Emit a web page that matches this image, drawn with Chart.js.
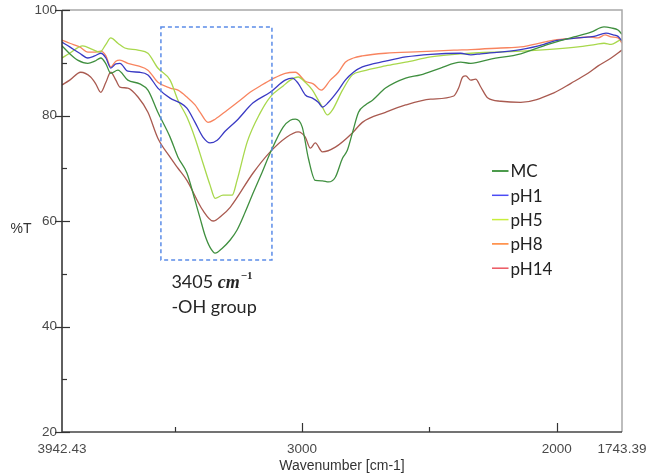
<!DOCTYPE html>
<html><head><meta charset="utf-8">
<script src="https://cdn.jsdelivr.net/npm/chart.js@4/dist/chart.umd.min.js"></script>
<style>html,body{margin:0;padding:0;background:#fff;}#wrap{width:648px;height:475px;}</style>
</head><body><div id="wrap"><canvas id="c" width="648" height="475"></canvas></div>
<script>
// ---- data: [wavenumber cm-1, %T] ----
const seriesNames = ['MC', 'pH1', 'pH5', 'pH8', 'pH14'];
const mcSpectrum = [[3942.43,93.2],[3912,91.7],[3881,90.5],[3841,89.9],[3814,90.3],[3790,90.9],[3770,89.8],[3751,88.0],[3723,88.6],[3684,86.7],[3637,86.0],[3605,84.8],[3566,80.6],[3518,75.9],[3487,72.1],[3452,69.1],[3420,63.9],[3400,60.5],[3381,57.3],[3361,55.0],[3341,53.9],[3314,54.8],[3282,56.4],[3255,58.3],[3223,61.7],[3192,65.3],[3156,69.3],[3125,72.9],[3074,77.8],[3046,79.1],[3026,79.3],[2999,77.8],[2975,71.9],[2948,67.7],[2920,67.6],[2896,67.4],[2869,68.3],[2841,71.9],[2822,73.4],[2802,76.7],[2778,80.6],[2751,82.0],[2723,82.9],[2672,85.2],[2593,87.1],[2534,87.7],[2456,89.0],[2377,90.1],[2337,89.9],[2259,90.7],[2141,91.7],[2034,93.5],[1932,94.9],[1865,95.8],[1814,96.8],[1786,96.6],[1759,96.2],[1743.39,95.4]];
const ph1Spectrum = [[3942.43,93.9],[3912,93.0],[3873,91.8],[3841,90.9],[3814,91.3],[3790,91.8],[3770,90.9],[3751,89.0],[3731,89.8],[3715,89.9],[3684,88.4],[3637,88.2],[3605,87.7],[3566,85.2],[3518,83.3],[3479,82.4],[3452,81.4],[3420,78.7],[3389,75.9],[3361,74.8],[3333,75.3],[3302,77.0],[3255,79.1],[3192,82.4],[3125,84.4],[3066,86.7],[3038,87.1],[3015,86.1],[2987,83.9],[2959,83.3],[2936,82.5],[2920,81.6],[2896,82.5],[2857,84.8],[2830,86.7],[2798,88.2],[2763,89.2],[2672,90.3],[2593,91.1],[2495,91.6],[2377,91.8],[2337,91.5],[2298,91.7],[2141,92.5],[2050,93.5],[2011,94.1],[1916,94.7],[1853,95.0],[1806,95.6],[1778,95.3],[1759,95.0],[1743.39,94.1]];
const ph5Spectrum = [[3942.43,90.9],[3912,91.8],[3861,93.2],[3826,92.6],[3794,92.0],[3770,93.5],[3751,94.7],[3723,93.7],[3696,92.8],[3644,92.4],[3605,91.8],[3566,89.0],[3518,86.7],[3487,82.9],[3452,79.7],[3420,75.7],[3389,71.0],[3361,66.8],[3341,64.3],[3310,64.9],[3274,64.9],[3255,67.7],[3215,75.0],[3164,80.5],[3125,83.5],[3074,85.6],[3046,86.7],[3015,87.3],[2987,86.3],[2959,84.8],[2936,82.9],[2920,81.6],[2900,80.1],[2881,81.0],[2841,84.8],[2802,87.7],[2763,88.4],[2672,89.4],[2593,90.1],[2495,91.1],[2377,91.7],[2141,92.2],[1916,93.0],[1845,93.5],[1814,93.7],[1786,93.5],[1759,94.1],[1743.39,94.5]];
const ph8Spectrum = [[3942.43,94.3],[3912,93.7],[3873,93.0],[3841,92.0],[3814,92.0],[3790,92.2],[3770,91.3],[3751,89.2],[3731,90.3],[3715,90.5],[3684,89.9],[3644,89.4],[3605,88.6],[3566,86.3],[3518,85.2],[3487,84.8],[3452,83.5],[3420,82.0],[3400,80.6],[3369,78.7],[3341,79.3],[3294,81.0],[3243,82.9],[3204,84.4],[3164,85.6],[3117,86.9],[3066,88.0],[3026,88.2],[2987,86.5],[2956,86.0],[2924,84.8],[2889,86.7],[2857,88.2],[2830,90.1],[2798,90.9],[2763,91.3],[2672,91.8],[2534,92.1],[2404,92.4],[2337,92.5],[2219,92.8],[2141,93.0],[2050,93.9],[2011,94.3],[1916,94.7],[1877,94.9],[1837,94.7],[1810,95.3],[1786,94.9],[1759,94.7],[1743.39,93.7]];
const ph14Spectrum = [[3942.43,85.8],[3912,86.7],[3869,88.2],[3830,87.3],[3810,86.0],[3790,84.4],[3770,86.3],[3751,88.2],[3731,86.7],[3715,85.4],[3684,85.2],[3644,83.5],[3605,80.6],[3566,75.7],[3518,72.1],[3487,70.0],[3452,67.7],[3389,62.0],[3349,60.0],[3314,61.1],[3282,62.6],[3192,69.1],[3125,73.1],[3066,75.7],[3015,76.9],[2987,75.9],[2967,73.8],[2948,74.8],[2920,73.1],[2869,74.0],[2802,76.7],[2763,78.7],[2672,80.6],[2593,82.0],[2495,83.1],[2404,83.7],[2385,85.2],[2369,87.3],[2357,87.5],[2337,86.7],[2318,86.9],[2298,85.4],[2270,83.3],[2219,82.7],[2141,82.5],[2011,84.3],[1944,86.1],[1877,88.0],[1837,89.4],[1786,90.9],[1743.39,92.4]];
const xTickValues = [3942.43, 3500, 3000, 2500, 2000, 1743.39];
const xTickLabels = ['3942.43', '', '3000', '', '2000', '1743.39'];
const yTickValues = [20, 30, 40, 50, 60, 70, 80, 90, 100];
const yTickLabels = ['20', '', '40', '', '60', '', '80', '', '100'];
const highlightBand = { fromWn: 3554, toWn: 3118, topT: 96.8, bottomT: 52.6 };
const annotationLines = ['3405 ', 'cm', '\u22121', '-OH group'];

// ---- styles ----
const curveColors = ['#3f8f3f', '#3a3ac4', '#a8d84c', '#f8845f', '#a95a50'];
const legendColors = ['#117a11', '#4b4bf5', '#c8ee3c', '#ff8030', '#ec5660'];
const spectra = [mcSpectrum, ph1Spectrum, ph5Spectrum, ph8Spectrum, ph14Spectrum];
const tickFont = { family: '"Liberation Sans", Arial, sans-serif', size: 13.5 };
const tickColor = '#4a4a4a';

const decor = {
  id: 'decor',
  afterDatasetsDraw(chart) {
    const { ctx, chartArea: a, scales: { x, y } } = chart;
    ctx.save();
    // frame
    ctx.lineWidth = 1.5;
    ctx.strokeStyle = '#a8a8a8';
    ctx.beginPath(); ctx.moveTo(a.left, a.top); ctx.lineTo(a.right, a.top); ctx.lineTo(a.right, a.bottom); ctx.stroke();
    ctx.strokeStyle = '#2a2a2a';
    ctx.beginPath(); ctx.moveTo(a.left, a.top); ctx.lineTo(a.left, a.bottom); ctx.stroke();
    ctx.strokeStyle = '#444';
    ctx.beginPath(); ctx.moveTo(a.left, a.bottom); ctx.lineTo(a.right, a.bottom); ctx.stroke();
    // tick marks
    ctx.lineWidth = 1.2; ctx.strokeStyle = '#333';
    yTickValues.forEach((v, i) => {
      const py = Math.round(y.getPixelForValue(v)) + 0.5;
      ctx.beginPath();
      if (yTickLabels[i]) { ctx.moveTo(a.left - 7, py); ctx.lineTo(a.left + 8, py); }
      else { ctx.moveTo(a.left, py); ctx.lineTo(a.left + 5, py); }
      ctx.stroke();
    });
    xTickValues.forEach((v, i) => {
      if (i === 0 || i === xTickValues.length - 1) return;
      const px = Math.round(x.getPixelForValue(v)) + 0.5;
      ctx.beginPath();
      ctx.moveTo(px, a.bottom);
      ctx.lineTo(px, a.bottom - (xTickLabels[i] ? 9 : 5));
      ctx.stroke();
    });
    // highlight box
    const bx1 = x.getPixelForValue(highlightBand.fromWn), bx2 = x.getPixelForValue(highlightBand.toWn);
    const by1 = y.getPixelForValue(highlightBand.topT), by2 = y.getPixelForValue(highlightBand.bottomT);
    ctx.setLineDash([4, 3]); ctx.lineWidth = 1.5; ctx.strokeStyle = '#5b8ce8';
    ctx.strokeRect(bx1, by1, bx2 - bx1, by2 - by1);
    ctx.setLineDash([]);
    // annotation text
    ctx.fillStyle = '#262626'; ctx.textBaseline = 'middle'; ctx.textAlign = 'left';
    let tx = bx1 + 10.5;
    const ty1 = by2 + 22, ty2 = by2 + 47;
    ctx.font = '18px Lato';
    ctx.fillText(annotationLines[0], tx, ty1);
    tx += ctx.measureText(annotationLines[0]).width;
    ctx.font = 'italic bold 18px "Liberation Serif"';
    ctx.fillText(annotationLines[1], tx, ty1 + 1);
    tx += ctx.measureText(annotationLines[1]).width + 1;
    ctx.font = 'bold 11px "Liberation Serif"';
    ctx.fillText(annotationLines[2], tx, ty1 - 6);
    ctx.font = '18px Lato';
    ctx.fillText(annotationLines[3], bx1 + 10.5, ty2);
    // legend
    ctx.font = '17px Lato';
    seriesNames.forEach((n, i) => {
      const ly = 171 + i * 24.3;
      ctx.strokeStyle = legendColors[i]; ctx.lineWidth = 1.5;
      ctx.beginPath(); ctx.moveTo(492, ly); ctx.lineTo(508.5, ly); ctx.stroke();
      ctx.fillStyle = '#222';
      ctx.fillText(n, 510.5, ly + 1);
    });
    // y axis title
    ctx.font = '14px "Liberation Sans", Arial, sans-serif';
    ctx.fillStyle = '#333'; ctx.textAlign = 'center';
    ctx.fillText('%T', 21, 229);
    ctx.restore();
  }
};

new Chart(document.getElementById('c'), {
  type: 'line',
  data: {
    datasets: seriesNames.map((n, i) => ({
      label: n,
      data: spectra[i].map(p => ({ x: p[0], y: p[1] })),
      borderColor: curveColors[i],
      borderWidth: 1.3,
      pointRadius: 0,
      fill: false,
      cubicInterpolationMode: 'monotone'
    }))
  },
  options: {
    responsive: false,
    animation: false,
    devicePixelRatio: 1,
    layout: { padding: { top: 10, right: 26, left: 0, bottom: 0 } },
    plugins: { legend: { display: false }, tooltip: { enabled: false } },
    scales: {
      x: {
        type: 'linear', reverse: true, min: 1743.39, max: 3942.43,
        afterBuildTicks: s => { s.ticks = xTickValues.map(v => ({ value: v })); },
        afterFit: s => { s.height = 43; s.paddingLeft = 0; s.paddingRight = 0; },
        grid: { display: false, drawTicks: false }, border: { display: false },
        ticks: { autoSkip: false, maxRotation: 0, minRotation: 0, padding: 9, color: tickColor, font: tickFont,
                 callback: (v, i) => xTickLabels[i] },
        title: { display: true, text: 'Wavenumber [cm-1]', color: '#333', padding: { top: 2, bottom: 0 },
                 font: { family: '"Liberation Sans", Arial, sans-serif', size: 14 } }
      },
      y: {
        min: 20, max: 100,
        afterBuildTicks: s => { s.ticks = yTickValues.map(v => ({ value: v })); },
        afterFit: s => { s.width = 62; s.paddingTop = 0; s.paddingBottom = 0; },
        grid: { display: false, drawTicks: false }, border: { display: false },
        ticks: { autoSkip: false, padding: 5, color: tickColor, font: tickFont,
                 callback: (v, i) => yTickLabels[i] }
      }
    }
  },
  plugins: [decor]
});
</script></body></html>
